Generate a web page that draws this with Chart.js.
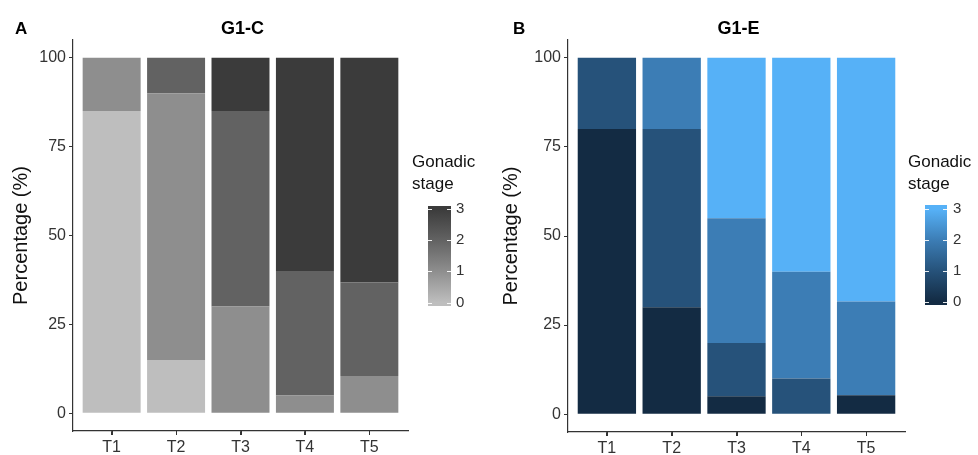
<!DOCTYPE html>
<html>
<head>
<meta charset="utf-8">
<script src="https://cdn.jsdelivr.net/npm/chart.js@4.4.0/dist/chart.umd.min.js"></script>
<style>
  body { margin: 0; background: #fff; }
  #wrap { position: relative; width: 978px; height: 455px; background: #fff; }
  #chartA { position: absolute; left: 0; top: 0; }
  #chartB { position: absolute; left: 490px; top: 0; }
</style>
</head>
<body>
<div id="wrap">
  <canvas id="chartA" width="490" height="455"></canvas>
  <canvas id="chartB" width="488" height="455"></canvas>
</div>
<script>
const times = ["T1", "T2", "T3", "T4", "T5"];
const stages = [0, 1, 2, 3];
const yTicks = [0, 25, 50, 75, 100];

// G1-C, percentage of fish per gonadic stage
const c_stage0 = [85, 15, 0, 0, 0];
const c_stage1 = [15, 75, 30, 5, 10.5];
const c_stage2 = [0, 10, 55, 35, 26.3];
const c_stage3 = [0, 0, 15, 60, 63.2];

// G1-E
const e_stage0 = [80, 30, 5, 0, 5.3];
const e_stage1 = [20, 50, 15, 10, 0];
const e_stage2 = [0, 20, 35, 30, 26.3];
const e_stage3 = [0, 0, 45, 60, 68.4];

const greyColors = ["#bebebe", "#8e8e8e", "#626262", "#3b3b3b"];
const blueColors = ["#132b43", "#26527a", "#3c7db5", "#56b1f7"];

const FONT = '"Liberation Sans", Arial, sans-serif';

function makeDatasets(rows, colors) {
  return rows.map(function (vals, s) {
    return {
      label: String(stages[s]),
      data: vals.map(function (v, i) { return { x: i + 1, y: v }; }),
      backgroundColor: colors[s],
      borderWidth: 0,
      categoryPercentage: 1.0,
      barPercentage: 0.9,
    };
  });
}

function decor(tag, tagX, title, colors, lg) {
  return {
    id: "decor",
    afterDraw(chart) {
      const ctx = chart.ctx;
      const area = chart.chartArea;
      ctx.save();

      // x tick marks under the axis
      const xs = chart.scales.x;
      ctx.strokeStyle = "#333";
      ctx.lineWidth = 1;
      times.forEach(function (t, i) {
        const px = Math.round(xs.getPixelForValue(i + 1)) + 0.5;
        ctx.beginPath();
        ctx.moveTo(px, area.bottom);
        ctx.lineTo(px, area.bottom + 4);
        ctx.stroke();
      });

      ctx.fillStyle = "#000";
      ctx.textBaseline = "alphabetic";
      ctx.font = "bold 17px " + FONT;
      ctx.textAlign = "left";
      ctx.fillText(tag, tagX, 34);
      ctx.font = "bold 18px " + FONT;
      ctx.textAlign = "center";
      ctx.fillText(title, (area.left + area.right) / 2 + 2, 34);

      // colour bar legend
      ctx.font = "17px " + FONT;
      ctx.textAlign = "left";
      ctx.fillStyle = "#111";
      ctx.fillText("Gonadic", lg.textX, 167);
      ctx.fillText("stage", lg.textX, 189);

      const yOf = function (v) { return lg.y0 - v * lg.step; };
      const grad = ctx.createLinearGradient(0, lg.bottom, 0, lg.top);
      const span = lg.bottom - lg.top;
      grad.addColorStop(0, colors[0]);
      stages.forEach(function (s) {
        grad.addColorStop((lg.bottom - yOf(s)) / span, colors[s]);
      });
      grad.addColorStop(1, colors[3]);
      ctx.fillStyle = grad;
      ctx.fillRect(lg.x0, lg.top, lg.x1 - lg.x0, span);

      ctx.strokeStyle = "rgba(255,255,255,0.9)";
      ctx.lineWidth = 1;
      ctx.fillStyle = "#333";
      ctx.font = "15px " + FONT;
      ctx.textBaseline = "middle";
      stages.forEach(function (s) {
        const y = Math.round(yOf(s)) + 0.5;
        ctx.beginPath();
        ctx.moveTo(lg.x0, y); ctx.lineTo(lg.x0 + 4, y);
        ctx.moveTo(lg.x1 - 4, y); ctx.lineTo(lg.x1, y);
        ctx.stroke();
        ctx.fillText(String(s), lg.labelX, yOf(s));
      });
      ctx.restore();
    },
  };
}

function makeChart(el, rows, colors, geo, plugin) {
  return new Chart(el, {
    type: "bar",
    data: { datasets: makeDatasets(rows, colors) },
    options: {
      responsive: false,
      animation: false,
      devicePixelRatio: 1,
      layout: { padding: { left: 0, top: geo.top, right: geo.right, bottom: 0 } },
      plugins: { legend: { display: false }, tooltip: { enabled: false } },
      scales: {
        x: {
          type: "linear",
          stacked: true,
          offset: false,
          min: 0.4,
          max: 5.6,
          afterBuildTicks(scale) { scale.ticks = times.map(function (t, i) { return { value: i + 1 }; }); },
          afterFit(scale) { scale.height = geo.xh; },
          ticks: {
            callback: function (v) { return times[v - 1]; },
            color: "#333",
            font: { family: FONT, size: 16 },
            padding: 3,
            maxRotation: 0,
          },
          grid: { offset: false, drawOnChartArea: false, drawTicks: true, tickLength: 4, color: "#333", lineWidth: 1 },
          border: { display: true, color: "#333", width: 1.2 },
        },
        y: {
          stacked: true,
          min: -5,
          max: 105,
          afterBuildTicks(scale) { scale.ticks = yTicks.map(function (v) { return { value: v }; }); },
          afterFit(scale) { scale.width = geo.yw; },
          ticks: {
            color: "#333",
            font: { family: FONT, size: 16 },
            padding: 3,
          },
          grid: { drawOnChartArea: false, drawTicks: true, tickLength: 4, color: "#333" },
          border: { display: true, color: "#333", width: 1.2 },
          title: {
            display: true,
            text: "Percentage (%)",
            color: "#111",
            font: { family: FONT, size: 20 },
            padding: { top: 9, bottom: 0 },
          },
        },
      },
    },
    plugins: [plugin],
  });
}

const chartA = makeChart(
  document.getElementById("chartA"),
  [c_stage0, c_stage1, c_stage2, c_stage3],
  greyColors,
  { top: 40, right: 82, xh: 24, yw: 73 },
  decor("A", 15, "G1-C", greyColors, {
    textX: 412, x0: 428, x1: 451, top: 206, bottom: 306, y0: 302.5, step: 31.3, labelX: 456,
  })
);

const chartB = makeChart(
  document.getElementById("chartB"),
  [e_stage0, e_stage1, e_stage2, e_stage3],
  blueColors,
  { top: 40, right: 73, xh: 23, yw: 78 },
  decor("B", 23, "G1-E", blueColors, {
    textX: 418, x0: 435, x1: 457, top: 205, bottom: 305, y0: 301.7, step: 30.8, labelX: 463,
  })
);
</script>
</body>
</html>
